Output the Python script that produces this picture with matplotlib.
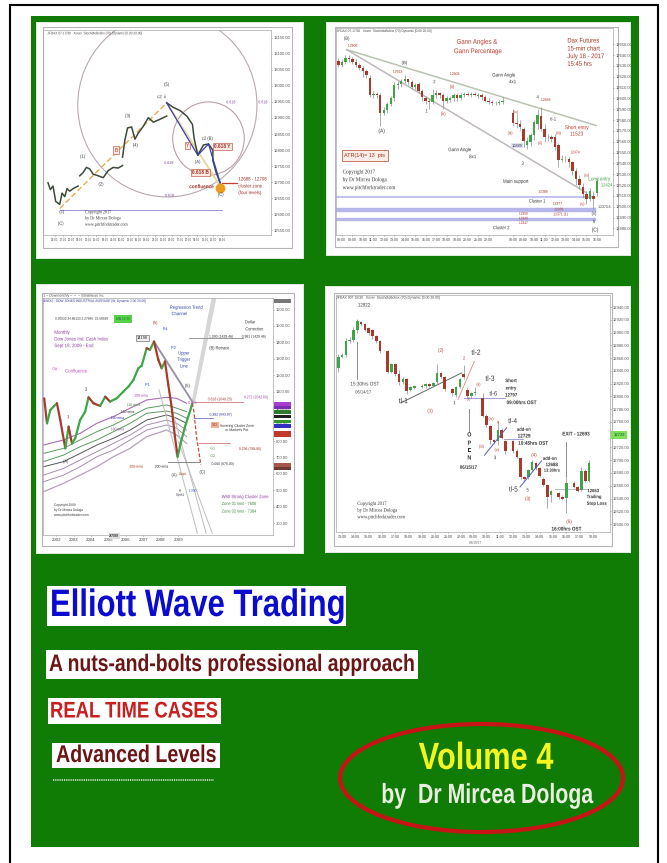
import matplotlib
matplotlib.use("Agg")
import matplotlib.pyplot as plt
from matplotlib.patches import Rectangle, Ellipse
from matplotlib.patheffects import AbstractPathEffect
from matplotlib.transforms import Affine2D

plt.rcParams['font.family'] = ['Liberation Sans', 'DejaVu Sans']

W, H = 667, 863
GREEN = '#107b05'
UP, DOWN = '#3fa648', '#a83a2c'

# ---------- panel 1 : index futures, wave line ----------
p1_ticks = [13150, 13100, 13050, 13000, 12950, 12900, 12850, 12800, 12750, 12700, 12650, 12600, 12550]
p1_seg1_x = [55, 62, 70, 78, 90, 97, 105, 112, 120, 130, 145]
p1_seg1_y = [12698, 12677, 12688, 12640, 12631, 12666, 12655, 12680, 12672, 12680, 12688]
p1_seg2_x = [150, 160, 170, 180, 190, 205, 220, 235, 250, 265, 278]
p1_seg2_y = [12720, 12730, 12746, 12741, 12725, 12720, 12714, 12736, 12746, 12744, 12752]
p1_seg3_x = [278, 285, 293, 305, 315, 325, 340, 355, 370, 390, 410]
p1_seg3_y = [12778, 12832, 12869, 12872, 12834, 12853, 12874, 12901, 12887, 12896, 12906]
p1_seg4_x = [410, 430, 450, 470, 487, 492, 503, 520, 535, 548, 548, 558, 570]
p1_seg4_y = [12947, 12933, 12923, 12906, 12880, 12837, 12784, 12816, 12819, 12800, 12768, 12730, 12698]
p1_blue_x = [410, 503, 535, 570]
p1_blue_y = [12947, 12784, 12819, 12698]
p1_xticks = [75, 100, 125, 150, 175, 200, 225, 250, 275, 300, 325, 350, 375, 400, 425, 450, 475, 500, 525, 550, 575]
p1_xlabels = ['14:00', '17:00', '20:00', '09:00', '12:00', '15:00', '18:00', '21:00', '10:00', '13:00', '16:00',
              '19:00', '22:00', '11:00', '14:00', '17:00', '20:00', '09:00', '12:00', '15:00', '18:00']

# ---------- panel 2 : Dax futures candles ----------
p2_ticks = [12650, 12640, 12630, 12620, 12610, 12600, 12590, 12580, 12570, 12560, 12550, 12540, 12530, 12520, 12510, 12500, 12490, 12480]
p2_x = list(range(48)) + list(range(50, 75))
p2_open = [12635, 12631, 12634, 12637, 12636, 12634, 12631, 12628, 12625, 12619,
           12603, 12604, 12603, 12587, 12589, 12595, 12600, 12612, 12613, 12616,
           12618, 12615, 12611, 12613, 12607, 12600, 12598, 12597, 12603, 12605,
           12603, 12598, 12599, 12600, 12603, 12600, 12603, 12604, 12603, 12604,
           12602, 12603, 12601, 12598, 12597, 12596, 12596, 12597,
           12587, 12577, 12576, 12572, 12557, 12560, 12566, 12576, 12584, 12572, 12564,
           12564, 12564, 12557, 12543, 12544, 12544, 12541, 12533, 12526, 12518, 12512, 12507, 12510, 12513]
p2_close = [12631, 12634, 12637, 12636, 12634, 12631, 12628, 12625, 12622, 12603,
            12604, 12603, 12587, 12589, 12595, 12600, 12612, 12613, 12616, 12618,
            12615, 12611, 12612, 12607, 12601, 12598, 12597, 12603, 12605, 12603,
            12598, 12600, 12600, 12603, 12600, 12603, 12604, 12603, 12604, 12603,
            12603, 12601, 12598, 12597, 12596, 12596, 12597, 12598,
            12577, 12576, 12574, 12561, 12561, 12566, 12578, 12585, 12572, 12564, 12564,
            12563, 12555, 12543, 12544, 12544, 12541, 12533, 12526, 12520, 12512, 12507, 12515, 12507, 12524]
p2_low = [12629, 12629, 12632, 12634, 12632, 12629, 12626, 12620, 12619, 12601,
          12600, 12600, 12575, 12585, 12587, 12593, 12598, 12609, 12611, 12614,
          12612, 12609, 12609, 12605, 12598, 12595, 12590, 12595, 12600, 12600,
          12590, 12596, 12597, 12598, 12598, 12599, 12601, 12602, 12601, 12602,
          12600, 12599, 12597, 12595, 12594, 12594, 12594, 12595,
          12575, 12573, 12571, 12555, 12553, 12556, 12562, 12572, 12570, 12560, 12561,
          12560, 12552, 12537, 12541, 12541, 12537, 12529, 12520, 12516, 12508, 12503, 12505, 12498, 12510]
p2_high = [12637, 12636, 12640, 12640, 12638, 12636, 12633, 12630, 12627, 12622,
           12607, 12606, 12605, 12592, 12597, 12602, 12615, 12616, 12618, 12622,
           12618, 12617, 12614, 12615, 12609, 12602, 12600, 12609, 12608, 12606,
           12605, 12602, 12602, 12605, 12605, 12605, 12606, 12606, 12606, 12606,
           12605, 12605, 12603, 12600, 12599, 12598, 12599, 12601,
           12590, 12586, 12580, 12574, 12564, 12568, 12580, 12590, 12592, 12576, 12567,
           12566, 12567, 12559, 12548, 12547, 12546, 12542, 12536, 12529, 12522, 12515, 12517, 12515, 12527]
p2_clusters = [12509, 12497, 12489]
p2_xticks = [1, 4, 7, 10, 13, 16, 19, 22, 25, 28, 31, 34, 37, 40, 43, 50, 53, 56, 59, 62, 65, 68, 71, 74]
p2_xlabels = ['08:00', '09:00', '10:00', '11:00', '12:00', '13:00', '14:00', '15:00', '16:00', '17:00', '18:00', '19:00',
              '20:00', '21:00', '22:00', '08:00', '09:00', '10:00', '11:00', '12:00', '13:00', '14:00', '15:00', '16:00']

# ---------- panel 3 : Dow weekly, waves and EMAs ----------
p3_ticks = [1600, 1500, 1400, 1300, 1200, 1100, 1000, 900, 800, 700, 600, 500, 400, 300]
p3_years = [2002, 2003, 2004, 2005, 2006, 2007, 2008, 2009]
p3_x = [2001.31, 2001.47, 2001.66, 2001.85, 2002.04, 2002.23, 2002.52, 2002.71, 2002.90, 2003.09, 2003.37, 2003.66,
        2003.85, 2004.14, 2004.52, 2004.81, 2005.09, 2005.47, 2005.85, 2006.14, 2006.43, 2006.71, 2006.90, 2007.19,
        2007.38, 2007.61, 2007.86, 2008.05, 2008.24, 2008.43, 2008.62, 2008.81, 2008.97, 2009.14, 2009.39, 2009.67, 2009.81]
p3_y = [1060, 908, 989, 1010, 1030, 928, 756, 888, 786, 817, 928, 979,
        1066, 1030, 1014, 1070, 1040, 1060, 1101, 1131, 1172, 1243, 1257, 1365,
        1355, 1405, 1294, 1243, 1284, 1142, 1010, 827, 705, 786, 888, 979, 1030]
p3_proj_x = [2009.81, 2009.90, 2010.05, 2010.30]
p3_proj_y = [1030, 979, 827, 654]
p3_ema_x = [2001.27, 2002.42, 2003.37, 2004.33, 2005.28, 2006.24, 2007.19, 2008.34, 2008.91, 2009.48]
p3_ema_100 = [776, 807, 847, 908, 949, 1000, 1050, 1066, 1060, 1030]
p3_ema_110 = [725, 756, 807, 857, 898, 949, 1000, 1020, 1000, 979]
p3_ema_120 = [675, 715, 766, 807, 857, 908, 969, 983, 969, 939]
p3_ema_130 = [644, 675, 725, 776, 817, 867, 928, 959, 939, 908]
p3_ema_150 = [593, 634, 685, 736, 786, 837, 898, 928, 908, 867]
p3_ema_180 = [553, 593, 644, 705, 746, 807, 867, 898, 878, 827]
p3_ema_200 = [492, 543, 593, 644, 705, 756, 827, 867, 837, 786]

# ---------- panel 4 : intraday candles ----------
p4_ticks = [12940, 12920, 12900, 12880, 12860, 12840, 12820, 12800, 12780, 12760, 12740, 12720, 12700, 12680, 12660, 12640, 12620, 12600]
p4_x = [0, 1, 2, 3, 4, 5, 6, 7, 8, 9, 10, 11, 13, 14, 15, 16, 17, 18, 19, 20, 22, 23, 24, 25, 26, 27, 28, 30, 31, 32,
        33, 34, 35, 36, 38, 39, 40, 41, 42, 43, 44, 46, 47, 48, 49, 50, 51, 52, 53, 54, 55, 56, 58, 59, 60, 62, 63, 64, 65, 66]
p4_open = [12845, 12862, 12865, 12887, 12889, 12904, 12917, 12913, 12907, 12904, 12894, 12887, 12871, 12839, 12851,
           12835, 12822, 12827, 12810, 12814, 12815, 12816, 12819, 12817, 12822, 12836, 12830, 12811, 12802, 12815,
           12835, 12810, 12800, 12805, 12797, 12770, 12753, 12731, 12730, 12748, 12730, 12730, 12715, 12703, 12673,
           12673, 12685, 12696, 12688, 12671, 12661, 12646, 12648, 12643, 12641, 12665, 12658, 12653, 12683, 12668]
p4_close = [12862, 12865, 12887, 12889, 12904, 12919, 12913, 12904, 12899, 12894, 12887, 12872, 12839, 12851, 12835,
            12822, 12827, 12809, 12815, 12816, 12817, 12819, 12817, 12821, 12837, 12831, 12811, 12805, 12815, 12827,
            12830, 12800, 12805, 12807, 12770, 12755, 12731, 12728, 12748, 12735, 12715, 12715, 12705, 12673, 12671,
            12685, 12698, 12688, 12675, 12661, 12643, 12651, 12643, 12640, 12665, 12658, 12652, 12683, 12668, 12695]
p4_low = [12838, 12860, 12862, 12884, 12886, 12900, 12910, 12902, 12896, 12890, 12884, 12868, 12836, 12836, 12832,
          12818, 12819, 12804, 12808, 12812, 12813, 12814, 12815, 12815, 12820, 12829, 12809, 12800, 12799, 12813,
          12828, 12797, 12798, 12803, 12768, 12752, 12725, 12725, 12724, 12733, 12710, 12712, 12703, 12670, 12668,
          12670, 12683, 12685, 12673, 12659, 12625, 12635, 12640, 12637, 12618, 12656, 12650, 12651, 12666, 12666]
p4_high = [12866, 12868, 12892, 12893, 12909, 12922, 12919, 12915, 12909, 12906, 12896, 12889, 12873, 12853, 12853,
           12842, 12830, 12829, 12817, 12818, 12819, 12821, 12821, 12823, 12851, 12838, 12832, 12813, 12817, 12829,
           12850, 12815, 12807, 12815, 12805, 12772, 12755, 12733, 12760, 12750, 12732, 12732, 12717, 12705, 12676,
           12687, 12700, 12698, 12690, 12673, 12663, 12653, 12650, 12645, 12683, 12667, 12660, 12690, 12686, 12700]
p4_xticks = [1, 4.5, 8, 11.5, 15, 18.5, 22, 25.5, 29, 32.5, 35.5, 39, 42.5, 46, 49.5, 53, 56.5, 60, 63.5, 67]
p4_xlabels = ['13:00', '14:00', '15:00', '16:00', '17:00', '18:00', '19:00', '20:00', '21:00', '22:00',
              '09:00', '10:00', '11:00', '12:00', '13:00', '14:00', '15:00', '16:00', '17:00', '18:00']


class Squeeze(AbstractPathEffect):
    """Narrow the glyphs of a text horizontally about a pixel column: the cover's type is condensed."""

    def __init__(self, sx, x0):
        super().__init__()
        self.sx, self.x0 = sx, x0

    def draw_path(self, renderer, gc, tpath, affine, rgbFace=None):
        squeezed = affine + Affine2D().translate(-self.x0, 0).scale(self.sx, 1).translate(self.x0, 0)
        renderer.draw_path(gc, tpath, squeezed, rgbFace)


fig = plt.figure(figsize=(W / 100, H / 100), dpi=100, facecolor='white')


def rect_ax(l, t, r, b, **kw):
    return fig.add_axes([l / W, 1 - b / H, (r - l) / W, (b - t) / H], **kw)


# background layer, in picture pixels
bg = rect_ax(0, 0, W, H, zorder=0)
bg.set_xlim(0, W); bg.set_ylim(H, 0); bg.axis('off')
bg.plot([10, 10, 658, 658], [H, 5.5, 5.5, H], color='black', lw=1.5, solid_joinstyle='miter')
bg.add_patch(Rectangle((31, 16), 608, 831, fc=GREEN, ec='none'))
for (l, t, r, b), (fl, ft, fr, fb) in [((37, 23, 303, 258), (43, 27, 292, 248)),
                                       ((327, 23, 630, 255), (335, 27, 618, 247)),
                                       ((37, 285, 303, 553), (42, 293, 294, 546)),
                                       ((326, 287, 630, 552), (334, 293, 612, 546))]:
    bg.add_patch(Rectangle((l - 1, t - 1), r - l + 2, b - t + 2, fc='#dfe9dc', ec='none'))
    bg.add_patch(Rectangle((l, t), r - l, b - t, fc='white', ec='none'))
    bg.add_patch(Rectangle((fl, ft), fr - fl, fb - ft, fc='white', ec='#b5b5b5', lw=0.8))


def price_axis(rect, ylim, ticks, size=3.0, skip=()):
    ax = rect_ax(*rect, zorder=2)
    ax.set_ylim(*ylim)
    ax.yaxis.tick_right()
    ax.set_yticks(ticks)
    ax.set_yticklabels(['' if t in skip else '{:.2f}'.format(t) for t in ticks], fontsize=size, color='#333333')
    ax.tick_params(length=1, width=0.4, pad=1, colors='#555555')
    for s in ax.spines.values():
        s.set_color('#aaaaaa'); s.set_linewidth(0.5)
    ax.patch.set_alpha(0)
    return ax


def candles(ax, x, o, c, lo, hi, width=0.7):
    for xi, a, b, l, h in zip(x, o, c, lo, hi):
        col = UP if b >= a else DOWN
        ax.vlines(xi, l, h, color='#8c8c8c', lw=0.5, zorder=2)
        ax.bar(xi, abs(b - a), bottom=min(a, b), width=width, color=col, lw=0, zorder=3)


# --- panel 1
a1 = price_axis((43, 30, 271, 235), (12535.5, 13174), p1_ticks)
a1.set_xlim(40, 722)
a1.add_patch(Ellipse((412, 12940), 536, 572, fc='none', ec='#b9a9ad', lw=0.8))
a1.add_patch(Ellipse((535, 12836), 214, 228, fc='none', ec='#b9a0a5', lw=0.8))
a1.plot([90, 410], [12618, 12947], color='#e9a94f', lw=1, ls=(0, (4, 2)))
a1.plot([410, 570], [12947, 12688], color='#e6d9a0', lw=1.4)
a1.plot([90, 575], [12613, 12613], color='#9a94d8', lw=0.7)
a1.plot([575, 620], [12696, 12696], color='#c43c34', lw=0.9)
for sx, sy in [(p1_seg1_x, p1_seg1_y), (p1_seg2_x, p1_seg2_y), (p1_seg3_x, p1_seg3_y), (p1_seg4_x, p1_seg4_y)]:
    a1.plot(sx, sy, color='#3c4a3c', lw=1.1)
a1.plot(p1_blue_x, p1_blue_y, color='#3a3fb8', lw=0.9)
a1.plot([570], [12682], 'o', color='#ee9a1c', ms=6)
a1.set_xticks(p1_xticks)
a1.set_xticklabels(p1_xlabels, fontsize=2.0, color='#444444')

# --- panel 2
a2 = price_axis((336, 28, 613, 235), (12474, 12665), p2_ticks)
a2.set_xlim(-0.67, 78.6)
for lvl, thick in zip(p2_clusters, [1.2, 3.2, 2.4]):
    a2.axhline(lvl, xmax=0.93, color='#b6b6ea', lw=thick, zorder=1)
a2.plot([2.4, 73.8], [12645, 12575], color='#b9c3b2', lw=1.1, zorder=1)
a2.plot([2.4, 71], [12645, 12513], color='#bfb9b9', lw=1.1, zorder=1)
candles(a2, p2_x, p2_open, p2_close, p2_low, p2_high)
a2.set_xticks(p2_xticks)
a2.set_xticklabels(p2_xlabels, fontsize=2.5, color='#444444')

# --- panel 3
a3 = price_axis((43, 298, 273, 535), (229, 1670), p3_ticks)
a3.set_xlim(2001.24, 2014.44)
for ema, col, lw in [(p3_ema_100, '#a76db5', 0.8), (p3_ema_110, '#5d9a60', 0.7), (p3_ema_120, '#5d9a60', 0.7),
                     (p3_ema_130, '#555555', 0.7), (p3_ema_150, '#a78fae', 0.7), (p3_ema_180, '#a78fae', 0.7),
                     (p3_ema_200, '#b7a0bb', 0.9)]:
    a3.plot(p3_ema_x, ema, color=col, lw=lw, zorder=1)
a3.fill([2009.81, 2010.95, 2011.15, 2009.93], [1040, 1669, 1669, 1040], color='#d6d6d6', zorder=1)
a3.plot([2007.61, 2009.81], [1405, 1040], color='#9a94ad', lw=1.4, zorder=2)
a3.plot([2007.9, 2010.10], [1112, 240], color='#bdbdbd', lw=0.7, zorder=1)
a3.plot([2008.6, 2010.60], [1010, 240], color='#bdbdbd', lw=0.7, zorder=1)
a3.plot([2009.0, 2010.95], [800, 240], color='#bdbdbd', lw=0.7, zorder=1)
for x1, x2, lvl, col in [(2009.6, 2012.7, 1429, '#888888'), (2009.9, 2012.7, 1040, '#d07a7a'),
                         (2009.9, 2011.0, 943, '#7070c0'), (2010.2, 2012.0, 788, '#d07a7a'),
                         (2008.4, 2010.2, 675, '#777777')]:
    a3.plot([x1, x2], [lvl, lvl], color=col, lw=0.6, zorder=1)
for i in range(len(p3_x) - 1):
    col = UP if p3_y[i + 1] >= p3_y[i] else DOWN
    a3.plot(p3_x[i:i + 2], p3_y[i:i + 2], color=col, lw=1.6, zorder=3, solid_capstyle='round')
a3.plot(p3_proj_x, p3_proj_y, color='#c0503a', lw=0.9, ls=(0, (3, 1.5)), zorder=3)
a3.set_xticks(p3_years)
a3.set_xticklabels([str(y) for y in p3_years], fontsize=3.2, color='#444444')

# --- panel 4 (12740 is covered by the green price tag)
a4 = price_axis((336, 295, 610, 532), (12587.5, 12959), p4_ticks, skip=(12740,))
a4.set_xlim(-0.6, 71.5)
a4.plot([16.5, 32.5], [12790, 12837], color='#666666', lw=0.7, zorder=2)
a4.plot([31.5, 35.8], [12795, 12855], color='#d89a90', lw=0.7, zorder=2)
a4.plot([33, 44], [12797, 12797], color='#8f8fd0', lw=0.6, zorder=2)
a4.plot([38.5, 44.3], [12708, 12751], color='#5a5ac8', lw=0.7, zorder=4)
a4.plot([43.5, 48.5], [12734, 12734], color='#8f8fd0', lw=0.6, zorder=2)
a4.plot([47.8, 53.5], [12658, 12699], color='#5a5ac8', lw=0.7, zorder=4)
a4.plot([57, 65.5], [12655, 12655], color='#a9b5cc', lw=0.6, zorder=2)
a4.plot([4.8, 4.8], [12885, 12827], color='#777777', lw=0.6)
a4.plot([34.5, 34.5], [12780, 12745], color='#777777', lw=0.6)
a4.plot([60, 60], [12729, 12675], color='#777777', lw=0.6)
candles(a4, p4_x, p4_open, p4_close, p4_low, p4_high)
a4.set_xticks(p4_xticks)
a4.set_xticklabels(p4_xlabels, fontsize=2.6, color='#444444')

# text layer, in picture pixels
top = rect_ax(0, 0, W, H, zorder=5)
top.set_xlim(0, W); top.set_ylim(H, 0); top.axis('off'); top.patch.set_alpha(0)


def notes(x0, y0, items):
    for it in items:
        zx, zy, s = it[:3]
        col = it[3] if len(it) > 3 else '#333333'
        fs = it[4] if len(it) > 4 else 3.4
        opts = it[5] if len(it) > 5 else {}
        px = x0 + zx / 3
        top.text(px, y0 + zy / 3, s, color=col, fontsize=fs, ha=opts.get('ha', 'center'), va='center',
                 family=opts.get('family', None), fontweight=opts.get('w', 'normal'),
                 bbox=opts.get('box', None), linespacing=1.05,
                 path_effects=[Squeeze(0.88, px)] if 'box' not in opts else None)


RBOX = dict(fc='#fbe9df', ec='#c2604c', lw=0.5, pad=0.8)
SERIF = 'Liberation Serif'

notes(30, 15, [
    (52, 55, 'JFDAX 07-17/30   Xover  StochdtoBolinx (70) Dynamic [0.00 20.00]', '#444444', 2.6, dict(ha='left')),
    (410, 208, '(5)'), (395, 245, 'c2  ii'), (293, 302, '(3)'), (316, 390, '(4)'), (158, 424, '(1)'), (213, 507, '(2)'),
    (503, 440, '(A)'), (532, 370, 'c2 (B)'), (572, 538, '(C)'),
    (95, 590, '(c)'), (92, 606, 'II'), (92, 625, '(C)'),
    (258, 405, 'B', '#b03a2c', 3.6, dict(box=RBOX)), (473, 392, 'Y', '#b03a2c', 3.6, dict(box=RBOX)),
    (577, 395, '0.618 Y', '#a03028', 3.4, dict(box=RBOX, w='bold')),
    (512, 472, '0.618 B', '#a03028', 3.4, dict(box=RBOX, w='bold')),
    (602, 262, '0.618', '#7a4a8a', 3), (698, 262, '0.618', '#7a4a8a', 3), (416, 444, '0.618', '#7a4a8a', 3),
    (418, 542, '0.618', '#7a4a8a', 3),
    (515, 515, 'confluence', '#a03028', 3.8, dict(w='bold')),
    (625, 492, '12688 - 12708', '#a03028', 3.6, dict(ha='left')),
    (625, 513, 'cluster zone', '#a03028', 3.6, dict(ha='left')),
    (625, 533, '(four levels)', '#a03028', 3.6, dict(ha='left')),
    (165, 592, 'Copyright 2017', '#333333', 3.4, dict(ha='left', family=SERIF)),
    (165, 610, 'by Dr Mircea Dologa', '#333333', 3.4, dict(ha='left', family=SERIF)),
    (165, 629, 'www.pitchforktrader.com', '#333333', 3.4, dict(ha='left', family=SERIF)),
])
notes(320, 15, [
    (50, 48, 'JFDAX 07-17/30   Xover  StochdtoBolinx (70) Dynamic [0.00 20.00]', '#444444', 2.6, dict(ha='left')),
    (472, 82, 'Gann Angles &', '#c0392b', 5), (475, 110, 'Gann Percentage', '#c0392b', 5),
    (742, 78, 'Dax Futures', '#a8321f', 4.8, dict(ha='left')), (742, 102, '15-min chart', '#a8321f', 4.8, dict(ha='left')),
    (742, 125, 'July 18 - 2017', '#a8321f', 4.8, dict(ha='left')), (742, 148, '15:45 hrs', '#a8321f', 4.8, dict(ha='left')),
    (80, 70, '(B)'), (98, 92, '12608', '#a8321f', 2.8), (253, 143, '(B)'), (233, 170, '12613', '#a8321f', 2.8),
    (185, 348, '(A)', '#333333', 4), (320, 288, '1'), (370, 296, '(ii)', '#a8321f'), (343, 200, '2'),
    (404, 177, '12603', '#a8321f', 2.8), (396, 215, '(ii)', '#a8321f'),
    (552, 180, 'Gann Angle', '#333333', 3.6), (578, 200, '4x1', '#333333', 3.6),
    (420, 404, 'Gann Angle', '#333333', 3.6), (458, 425, '8x1', '#333333', 3.6),
    (653, 246, '4'), (677, 255, '12559', '#a8321f', 2.8), (700, 312, 'tl-1', '#333333', 3.4),
    (770, 338, 'Short entry', '#c0392b', 4), (770, 357, '11523', '#c0392b', 4),
    (608, 445, '3'), (592, 392, '10889', '#333333', 2.8, dict(box=dict(fc='#dde0f7', ec='none', pad=0.5))),
    (570, 355, '(iii)', '#a8321f', 3), (587, 292, '(iv)', '#a8321f', 3), (660, 385, '(ii)', '#a8321f', 3),
    (715, 355, '(iii)', '#a8321f', 3), (765, 412, '12474', '#a8321f', 2.8), (800, 482, '(iv)', '#a8321f', 3),
    (838, 492, 'Long entry', '#3f9a3f', 3.8), (860, 510, '12424', '#3f9a3f', 3.4),
    (588, 499, 'Main support', '#333333', 3.6), (669, 530, '12386', '#a8321f', 2.8),
    (652, 558, 'Cluster 1', '#333333', 3.4), (712, 566, '12377', '#a8321f', 2.8), (716, 583, '12378', '#a8321f', 2.6),
    (722, 598, '12371 (1)', '#a8321f', 2.8), (610, 596, '12359', '#a8321f', 2.6), (610, 610, '12349', '#a8321f', 2.6),
    (610, 624, '12347', '#a8321f', 2.6), (544, 638, 'Cluster 2', '#333333', 3.4),
    (787, 568, '(v)', '#a8321f', 3), (853, 576, '12373.5', '#333333', 2.8), (822, 595, '(v)'),
    (822, 620, '5'), (825, 645, '(C)', '#333333', 4),
    (135, 421, 'ATR(14)= 13  pts', '#a8321f', 3.9, dict(box=dict(fc='#fbeee8', ec='#c2604c', lw=0.6, pad=2))),
    (68, 471, 'Copyright 2017', '#333333', 4.2, dict(ha='left', family=SERIF)),
    (68, 494, 'by Dr Mircea Dologa', '#333333', 4.2, dict(ha='left', family=SERIF)),
    (68, 517, 'www.pitchforktrader.com', '#333333', 4.2, dict(ha='left', family=SERIF)),
])
notes(30, 280, [
    (40, 47, '$1 - Dow monthly ---  $SSNallIsrail, Inc.', '#444444', 2.6, dict(ha='left')),
    (40, 63, '$INDU - DOW JONES INDUSTRIAL AVERAGE [W, Dynamic 2.00 20.00]', '#343aa0', 2.6, dict(ha='left')),
    (75, 116, '0.20533 34.86133 2.27646  23.58539', '#333333', 2.6, dict(ha='left')),
    (280, 116, 'MA 14.65', '#2f6f2f', 2.4, dict(box=dict(fc='#56d24a', ec='none', pad=1.4))),
    (73, 157, 'Monthly', '#8a3f9a', 3.6, dict(ha='left')), (73, 177, 'Dow Jones Ind. Cash Index', '#8a3f9a', 3.6, dict(ha='left')),
    (73, 197, 'Sept 19, 2009 - End', '#8a3f9a', 3.6, dict(ha='left')),
    (105, 273, 'Confluence', '#c44ec4', 3.6, dict(ha='left')), (74, 266, '0a', '#c44ec4', 3.4),
    (375, 129, '(5)', '#a8321f', 3.2), (405, 148, 'P4', '#2f4fd0', 3.2),
    (338, 175, '14198', '#222222', 2.8, dict(box=dict(fc='#f0f0f0', ec='#555555', lw=0.4, pad=0.7))),
    (430, 204, 'P2', '#2f4fd0', 3.2), (462, 219, 'Upper', '#2f3fa0', 3.4), (462, 238, 'Trigger', '#2f3fa0', 3.4), (462, 258, 'Line', '#2f3fa0', 3.4),
    (352, 315, 'P1', '#2f4fd0', 3.2), (472, 317, '(5)'),
    (470, 82, 'Regression Trend', '#2f3fa0', 3.4), (448, 101, 'Channel', '#2f3fa0', 3.4),
    (660, 127, 'Dollar', '#333333', 3.2), (672, 148, 'Correction', '#333333', 3.2),
    (574, 170, '1.000 (1429.46)', '#333333', 2.8), (672, 170, '0.981 (1429.46)', '#333333', 2.8),
    (567, 205, '(B) Retrace', '#333333', 3.2),
    (570, 358, '0.618 (1040.25)', '#a8321f', 2.8), (678, 352, '0.272 (1042.00)', '#9a3fa0', 2.8),
    (487, 369, '0.5m', '#c44ec4', 3.2), (572, 404, '0.382 (943.97)', '#3333a8', 2.8),
    (555, 434, '943', '#a8321f', 2.6, dict(box=dict(fc='#f0b49a', ec='none', pad=0.8))),
    (620, 444, 'Hovering Cluster Zone\nor Market\'s Pot', '#333333', 2.8),
    (660, 507, '0.236 (788.90)', '#a8321f', 2.8), (548, 505, 'G1', '#3f8a3f', 2.8), (548, 528, 'G2', '#3f8a3f', 2.8),
    (578, 552, '0.000 (675.00)', '#333333', 2.8), (517, 576, '(C)', '#333333', 3.4),
    (432, 586, '(A)', '#333333', 3.2), (394, 560, '200-ema', '#333333', 2.8), (458, 582, 'Gap1', '#a8321f', 2.6),
    (450, 638, 'A\nSpot1', '#333333', 2.6), (487, 632, '1.000', '#2f4fd0', 2.6),
    (333, 347, '100-ema', '#9a3fa0', 2.8), (310, 375, '110-ema', '#3f8a3f', 2.8), (292, 396, '150-ema', '#333333', 2.8),
    (262, 414, '160-ema', '#3333a8', 2.8), (262, 448, '180-ema', '#7a4a8a', 2.8), (318, 560, '200-ema', '#a8321f', 2.8),
    (107, 545, '(A)', '#333333', 3.2), (168, 328, '3'), (115, 410, '1'),
    (575, 650, 'W60 Strong Cluster Zone', '#8a3f9a', 3.4, dict(ha='left')),
    (575, 672, 'Zone 01 limit - 7606', '#3f8a3f', 3.2, dict(ha='left')),
    (575, 695, 'Zone 02 limit - 7384', '#3f8a3f', 3.2, dict(ha='left')),
    (72, 675, 'Copyright 2009', '#333333', 2.6, dict(ha='left')), (72, 690, 'by Dr Mircea Dologa', '#333333', 2.6, dict(ha='left')),
    (72, 705, 'www.pitchforktrader.com', '#333333', 2.6, dict(ha='left')),
    (253, 768, '2/7/09', '#333333', 2.6, dict(w='bold', box=dict(fc='#dddddd', ec='none', pad=0.5))),
])
notes(320, 280, [
    (48, 53, 'JFDAX 907 15/30   Xover  StochdtoBolinx (70) Dynamic [0.00 20.00]', '#444444', 2.8, dict(ha='left')),
    (132, 75, '12922', '#333333', 3.6), (135, 312, '15:30hrs OST', '#444444', 3.8), (130, 336, '06/14/17', '#444444', 3.4),
    (250, 365, 'tl-1', '#333333', 5.4), (330, 392, '(1)', '#a8321f', 3.6), (362, 211, '(2)', '#a8321f', 3.6), (432, 236, '2', '#a8321f', 3.2),
    (468, 220, 'tl-2', '#333333', 5.4), (403, 368, '1', '#333333', 3.6), (510, 298, 'tl-3', '#333333', 5.4),
    (520, 342, 'tl-6', '#333333', 4.6), (573, 302, 'Short', '#333333', 3.6, dict(w='bold')), (573, 324, 'entry', '#333333', 3.6, dict(w='bold')),
    (573, 345, '12797', '#333333', 3.6, dict(w='bold')), (605, 368, '09:00hrs OST', '#333333', 3.8, dict(w='bold')),
    (446, 358, '(i)', '#a8321f', 3), (475, 314, '(ii)', '#a8321f', 3), (513, 417, '(iv)', '#a8321f', 3),
    (484, 500, '(iii)', '#a8321f', 3), (530, 510, '(v)', '#a8321f', 3), (525, 533, '3', '#333333', 3.6), (534, 428, '4', '#a8321f', 3.2),
    (448, 465, 'O', '#333333', 4.4, dict(w='bold')), (448, 490, 'P', '#333333', 4.4, dict(w='bold')),
    (448, 512, 'E', '#333333', 4.4, dict(w='bold')), (448, 534, 'N', '#333333', 4.4, dict(w='bold')),
    (445, 562, '06/15/17', '#333333', 3.6, dict(w='bold')), (578, 425, 'tl-4', '#333333', 5.2),
    (612, 448, 'add-on', '#333333', 3.4, dict(w='bold')), (612, 468, '12729', '#333333', 3.8, dict(w='bold')),
    (640, 490, '10:45hrs OST', '#333333', 3.8, dict(w='bold')),
    (690, 535, 'add-on', '#333333', 3.4, dict(w='bold')), (695, 554, '12688', '#333333', 3.6, dict(w='bold')),
    (695, 572, '13:30hrs', '#333333', 3.2, dict(w='bold')),
    (768, 462, 'EXIT - 12693', '#333333', 3.8, dict(w='bold')), (642, 525, '(4)', '#a8321f', 3.6), (580, 630, 'tl-5', '#333333', 5.2),
    (623, 630, '5', '#333333', 3.4), (623, 656, '(3)', '#a8321f', 3.6), (747, 725, '(5)', '#a8321f', 3.6),
    (740, 747, '16:00hrs OST', '#333333', 3.8, dict(w='bold')),
    (820, 632, '12653', '#333333', 3.4, dict(w='bold')), (800, 650, 'Trailing', '#333333', 3.4, dict(ha='left', w='bold')),
    (800, 670, 'Stop Loss', '#333333', 3.4, dict(ha='left', w='bold')),
    (112, 672, 'Copyright 2017', '#333333', 3.8, dict(ha='left', family=SERIF)),
    (112, 692, 'by Dr Mircea Dologa', '#333333', 3.8, dict(ha='left', family=SERIF)),
    (112, 712, 'www.pitchforktrader.com', '#333333', 3.8, dict(ha='left', family=SERIF)),
    (465, 788, '06/15/17', '#555555', 2.6),
    (898, 465, '12729', '#2f8a2f', 3, dict(w='bold', box=dict(fc='#7ce05a', ec='none', pad=1.6))),
])

# colored level tags beside panel 3
for zy, col in [(372, '#a63fd0'), (383, '#7a2fb0'), (396, '#2f7a2f'), (410, '#1f1f1f'), (425, '#2f9a2f'),
                (438, '#2f2fc0'), (458, '#c0392b'), (467, '#c0392b'), (555, '#a8554a'), (565, '#6b3a34')]:
    top.add_patch(Rectangle((30 + 732 / 3, 280 + (zy - 5) / 3), 52 / 3, 10 / 3, fc=col, ec='none'))
top.add_patch(Rectangle((30 + 732 / 3, 280 + 56 / 3), 52 / 3, 14 / 3, fc='#777777', ec='none'))

# ---------- title blocks ----------
for (l, t, r, b) in [(47, 586, 346, 626), (46, 650, 418, 679), (48, 698, 221, 724), (52, 743, 220, 768)]:
    top.add_patch(Rectangle((l, t), r - l, b - t, fc='white', ec='none'))


def title(x, y, s, col, size, sx, ha='left'):
    top.text(x, y, s, color=col, fontsize=size, fontweight='bold', ha=ha, va='center', path_effects=[Squeeze(sx, x)])


title(50, 606, 'Elliott Wave Trading', '#0b0bd0', 27.5, 0.813)
title(49, 664.5, 'A nuts-and-bolts professional approach', '#6b1515', 17.2, 0.81)
title(50, 711, 'REAL TIME CASES', '#c81e1e', 16.3, 0.816)
title(56, 755.5, 'Advanced Levels', '#6b1515', 17.4, 0.813)
top.plot([53, 214], [780, 780], color='white', lw=1.1, ls=(0, (0.6, 0.6)))
top.add_patch(Ellipse((481.5, 778), 283, 108, fc='none', ec='#c81414', lw=3))
title(486, 759, 'Volume 4', '#f4f41e', 27.3, 0.813, ha='center')
title(487, 796, 'by  Dr Mircea Dologa', '#e8efe0', 20, 0.767, ha='center')

fig.savefig('out.png', dpi=100, facecolor='white')
